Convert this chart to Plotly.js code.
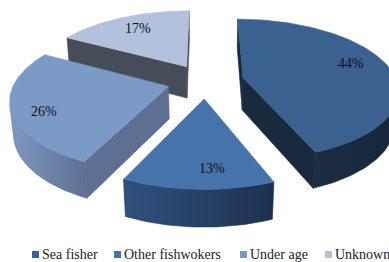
<!DOCTYPE html>
<html><head><meta charset="utf-8">
<script src="https://cdn.plot.ly/plotly-3.0.1.min.js"></script>
<style>html,body{margin:0;padding:0;background:#fff}#chart{width:389px;height:262px}</style>
</head><body><div id="chart"></div>
<script>
const categories = ['Sea fisher', 'Other fishwokers', 'Under age', 'Unknown'];
const shares = [44, 13, 26, 17];
const labels = ['44%', '13%', '26%', '17%'];
const topColors = ['#3A6190', '#4673AA', '#7B9AC6', '#B2C1DC'];
const faceColors = ['#1A2A3E', '#263F63', '#5D6F93', '#474D58'];
const wallLeft = ['#1C2D43', '#30517D', '#8099C2', '#4A505C'];
const wallRight = ['#17263A', '#1E3150', '#5C6F93', '#474D58'];
const legendColors = ['#3A6190', '#4673AA', '#7B9AC6', '#B2C1DC'];
const labelShiftX = [6, 12, -16, -2];
const labelShiftY = [6, -10, -9, 3];

// view / projection settings
const CX = 205.5, CY = 81, F = 845, D = 5.5, TILT = Math.asin(0.45);
const EXPLODE = 0.25, DEPTH = 0.24, LABEL_R = 0.7;
const S = Math.sin(TILT), C = Math.cos(TILT);
const rad = d => d * Math.PI / 180;
function proj(u, v, h) { const z = D + v * C - h * S; return [CX + F * u / z, CY - F * (v * S + h * C) / z]; }
const camV = -D * C;

const total = shares.reduce((a, b) => a + b, 0);
const slices = [];
let acc = 0;
shares.forEach((s, i) => {
  const a1 = acc / total * 360, a2 = (acc + s) / total * 360; acc += s;
  const mid = (a1 + a2) / 2;
  slices.push({ i, a1, a2, mid, ox: EXPLODE * Math.sin(rad(mid)), oy: EXPLODE * Math.cos(rad(mid)) });
});

function poly(pts, fill, grad) {
  const xs = pts.map(p => p[0]), ys = pts.map(p => p[1]);
  xs.push(xs[0]); ys.push(ys[0]);
  const t = { type: 'scatter', mode: 'lines', x: xs, y: ys, fill: 'toself', fillcolor: fill,
    line: { color: fill, width: 0.6 }, hoverinfo: 'skip', showlegend: false };
  if (grad) t.fillgradient = { type: 'horizontal', colorscale: [[0, grad[0]], [1, grad[1]]] };
  return t;
}

const traces = [];
const order = slices.slice().sort((a, b) => b.oy - a.oy);
order.forEach(sl => {
  const { i, a1, a2, ox, oy } = sl;
  const rim = (a, h) => proj(ox + Math.sin(rad(a)), oy + Math.cos(rad(a)), h);
  const apex = h => proj(ox, oy, h);
  const dS = (-Math.cos(rad(a1))) * (0 - ox) + Math.sin(rad(a1)) * (camV - oy);
  if (dS > 0) traces.push(poly([apex(0), rim(a1, 0), rim(a1, -DEPTH), apex(-DEPTH)], faceColors[i]));
  const dE = Math.cos(rad(a2)) * (0 - ox) + (-Math.sin(rad(a2))) * (camV - oy);
  if (dE > 0) traces.push(poly([apex(0), rim(a2, 0), rim(a2, -DEPTH), apex(-DEPTH)], faceColors[i]));
  const vis = [];
  const n = Math.max(2, Math.ceil(a2 - a1));
  for (let k = 0; k <= n; k++) {
    const a = a1 + (a2 - a1) * k / n;
    const sn = Math.sin(rad(a)), cs = Math.cos(rad(a));
    const dot = -(1 + ox * sn + oy * cs) - D * C * cs;
    if (dot > 0) vis.push(a);
  }
  if (vis.length >= 2) {
    const pts = vis.map(a => rim(a, 0)).concat(vis.slice().reverse().map(a => rim(a, -DEPTH)));
    traces.push(poly(pts, wallRight[i], [wallLeft[i], wallRight[i]]));
  }
  const top = [apex(0)];
  const m = Math.ceil(a2 - a1);
  for (let k = 0; k <= m; k++) top.push(rim(a1 + (a2 - a1) * k / m, 0));
  traces.push(poly(top, topColors[i]));
});

const shapes = [], annotations = [];
slices.forEach(sl => {
  const p = proj(sl.ox + LABEL_R * Math.sin(rad(sl.mid)), sl.oy + LABEL_R * Math.cos(rad(sl.mid)), 0);
  annotations.push({ xref: 'x', yref: 'y', x: p[0], y: p[1], text: labels[sl.i], showarrow: false,
    xshift: labelShiftX[sl.i], yshift: labelShiftY[sl.i],
    font: { family: 'Liberation Serif, serif', size: 14, color: '#111' } });
});

const legX = [32, 114, 240, 325];
categories.forEach((c, i) => {
  shapes.push({ type: 'rect', xref: 'x', yref: 'y', x0: legX[i], x1: legX[i] + 7, y0: 251, y1: 258,
    fillcolor: legendColors[i], line: { width: 0 } });
  annotations.push({ xref: 'x', yref: 'y', x: legX[i] + 8, y: 254.5, xanchor: 'left', yanchor: 'middle',
    text: c, showarrow: false, font: { family: 'Liberation Serif, serif', size: 14, color: '#222' } });
});

Plotly.newPlot('chart', traces, {
  width: 389, height: 262, margin: { l: 0, r: 0, t: 0, b: 0 },
  paper_bgcolor: '#fff', plot_bgcolor: '#fff', showlegend: false,
  xaxis: { range: [0, 389], visible: false, fixedrange: true },
  yaxis: { range: [262, 0], visible: false, fixedrange: true },
  shapes, annotations
}, { displayModeBar: false, staticPlot: true });
</script></body></html>
